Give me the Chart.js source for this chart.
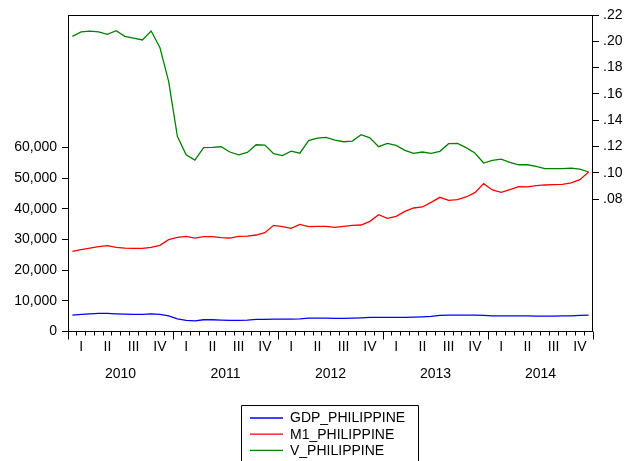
<!DOCTYPE html>
<html>
<head>
<meta charset="utf-8">
<title>Philippines: GDP, M1 and velocity</title>
<script src="https://cdn.jsdelivr.net/npm/chart.js@4.4.1/dist/chart.umd.min.js"></script>
<style>
  html, body { margin: 0; padding: 0; background: #fff; }
  #wrap { width: 626px; height: 461px; position: relative; }
</style>
</head>
<body>
<div id="wrap"><canvas id="chart"></canvas></div>
<script>
// Monthly series, January 2010 – December 2014
const years = ['2010', '2011', '2012', '2013', '2014'];
const quarters = ['I', 'II', 'III', 'IV'];
const months = years.flatMap(y => Array.from({ length: 12 }, (_, m) => y + 'M' + String(m + 1).padStart(2, '0')));

const gdpPhilippine = [
  5340, 5550, 5770, 5880, 5880, 5770, 5660, 5550, 5550, 5770, 5550, 5120,
  4140, 3600, 3490, 3820, 3820, 3710, 3600, 3600, 3710, 3920, 3920, 4030,
  4030, 4030, 4140, 4360, 4360, 4360, 4250, 4250, 4360, 4470, 4580, 4580,
  4580, 4580, 4580, 4690, 4790, 4900, 5230, 5340, 5340, 5340, 5340, 5230,
  5120, 5120, 5120, 5120, 5120, 5010, 5010, 5010, 5120, 5120, 5230, 5340
];

const m1Philippine = [
  26100, 26640, 27190, 27620, 27950, 27400, 27190, 27080, 27080, 27400, 28050, 29900,
  30660, 30990, 30450, 30880, 30880, 30560, 30450, 30990, 31100, 31430, 32190, 34580,
  34140, 33600, 34900, 34140, 34250, 34250, 33920, 34250, 34580, 34690, 35880, 38060,
  36860, 37510, 39140, 40230, 40560, 42080, 43710, 42730, 42950, 43820, 45230, 48160,
  46100, 45340, 46210, 47190, 47080, 47510, 47730, 47840, 47950, 48380, 49470, 51970
];

const vPhilippine = [
  0.2038, 0.2071, 0.2078, 0.2071, 0.2053, 0.2081, 0.2038, 0.2025, 0.2010, 0.2078, 0.1954, 0.1696,
  0.1278, 0.1138, 0.1098, 0.1192, 0.1194, 0.1199, 0.1159, 0.1138, 0.1156, 0.1214, 0.1212, 0.1146,
  0.1131, 0.1166, 0.1150, 0.1246, 0.1264, 0.1270, 0.1250, 0.1237, 0.1242, 0.1290, 0.1267, 0.1199,
  0.1224, 0.1209, 0.1171, 0.1148, 0.1159, 0.1148, 0.1164, 0.1222, 0.1224, 0.1192, 0.1151, 0.1075,
  0.1095, 0.1105, 0.1080, 0.1062, 0.1062, 0.1050, 0.1032, 0.1032, 0.1032, 0.1037, 0.1029, 0.1007
];

// Tick values shown on each vertical axis
const leftTicks = [0, 10000, 20000, 30000, 40000, 50000, 60000];
const rightTicks = [0.08, 0.10, 0.12, 0.14, 0.16, 0.18, 0.20, 0.22];

const FONT = "'Liberation Sans', Arial, Helvetica, sans-serif";
const INK = '#000000';

Chart.defaults.font.family = FONT;
Chart.defaults.font.size = 14;
Chart.defaults.color = INK;

// Frame around the plot area, longer ticks at year boundaries, and the boxed key
const decorations = {
  id: 'decorations',
  afterDraw(chart) {
    const { ctx, chartArea: a, scales } = chart;
    ctx.save();
    ctx.strokeStyle = INK;
    ctx.lineWidth = 1;
    const L = Math.round(a.left) + 0.5, R = Math.round(a.right) - 0.5;
    const T = Math.round(a.top) + 0.5, B = Math.round(a.bottom) - 0.5;
    ctx.strokeRect(L, T, R - L, B - T);

    // year-boundary ticks
    const x = scales.x;
    const step = x.getPixelForValue(1) - x.getPixelForValue(0);
    ctx.beginPath();
    for (let i = 0; i <= months.length; i += 12) {
      const px = Math.round(x.getPixelForValue(0) - step / 2 + step * i) + 0.5;
      ctx.moveTo(px, B);
      ctx.lineTo(px, B + 8);
    }
    ctx.stroke();

    // key
    const box = { left: 241.5, top: 405.5, right: 418.5 };
    ctx.beginPath();
    ctx.moveTo(box.left, chart.height + 2);
    ctx.lineTo(box.left, box.top);
    ctx.lineTo(box.right, box.top);
    ctx.lineTo(box.right, chart.height + 2);
    ctx.stroke();
    ctx.font = '14px ' + FONT;
    ctx.textBaseline = 'middle';
    ctx.textAlign = 'left';
    chart.data.datasets.forEach((ds, k) => {
      const y = 418 + k * 16.2;
      ctx.strokeStyle = ds.borderColor;
      ctx.lineWidth = 1.3;
      ctx.beginPath();
      ctx.moveTo(250, y);
      ctx.lineTo(283, y);
      ctx.stroke();
      ctx.fillStyle = INK;
      ctx.fillText(ds.label, 290, y + 0.5);
    });
    ctx.restore();
  }
};

new Chart(document.getElementById('chart'), {
  type: 'line',
  data: {
    labels: months,
    datasets: [
      { label: 'GDP_PHILIPPINE', data: gdpPhilippine, yAxisID: 'y', borderColor: '#0000ff' },
      { label: 'M1_PHILIPPINE', data: m1Philippine, yAxisID: 'y', borderColor: '#ff0000' },
      { label: 'V_PHILIPPINE', data: vPhilippine, yAxisID: 'y1', borderColor: '#008000' }
    ]
  },
  options: {
    responsive: true,
    maintainAspectRatio: false,
    animation: false,
    devicePixelRatio: 1,
    layout: { padding: { top: 15, left: 0, right: 0, bottom: 0 } },
    elements: {
      line: { borderWidth: 1.3, tension: 0 },
      point: { radius: 0, hoverRadius: 0 }
    },
    plugins: {
      legend: { display: false },
      tooltip: { enabled: false }
    },
    scales: {
      x: {
        type: 'category',
        position: 'bottom',
        weight: 0,
        offset: true,
        border: { display: false },
        grid: { display: true, offset: true, drawOnChartArea: false, drawTicks: true, tickLength: 4, color: INK },
        ticks: {
          autoSkip: false,
          maxRotation: 0,
          minRotation: 0,
          padding: 3,
          callback: (v, i) => (i % 3 === 1 ? quarters[Math.floor(i / 3) % 4] : '')
        },
        afterFit: s => { s.height = 30; }
      },
      xYear: {
        type: 'category',
        labels: years,
        position: 'bottom',
        weight: 1,
        display: true,
        offset: true,
        border: { display: false },
        grid: { display: false, drawTicks: false },
        ticks: { padding: 4.5, maxRotation: 0, autoSkip: false },
        afterFit: s => { s.height = 99.5; }
      },
      y: {
        position: 'left',
        min: 0,
        max: 103100,
        border: { display: false },
        grid: { display: true, drawOnChartArea: false, drawTicks: true, tickLength: 6, color: INK },
        afterBuildTicks: s => { s.ticks = leftTicks.map(v => ({ value: v })); },
        ticks: {
          padding: 5,
          callback: v => Number(v).toLocaleString('en-US')
        },
        afterFit: s => { s.width = 68; }
      },
      y1: {
        position: 'right',
        min: -0.0205,
        max: 0.22,
        border: { display: false },
        grid: { display: true, drawOnChartArea: false, drawTicks: true, tickLength: 6, color: INK },
        afterBuildTicks: s => { s.ticks = rightTicks.map(v => ({ value: v })); },
        ticks: {
          padding: 4,
          callback: v => Number(v).toFixed(2).replace(/^0/, '')
        },
        afterFit: s => { s.width = 33; }
      }
    }
  },
  plugins: [decorations]
});
</script>
</body>
</html>
